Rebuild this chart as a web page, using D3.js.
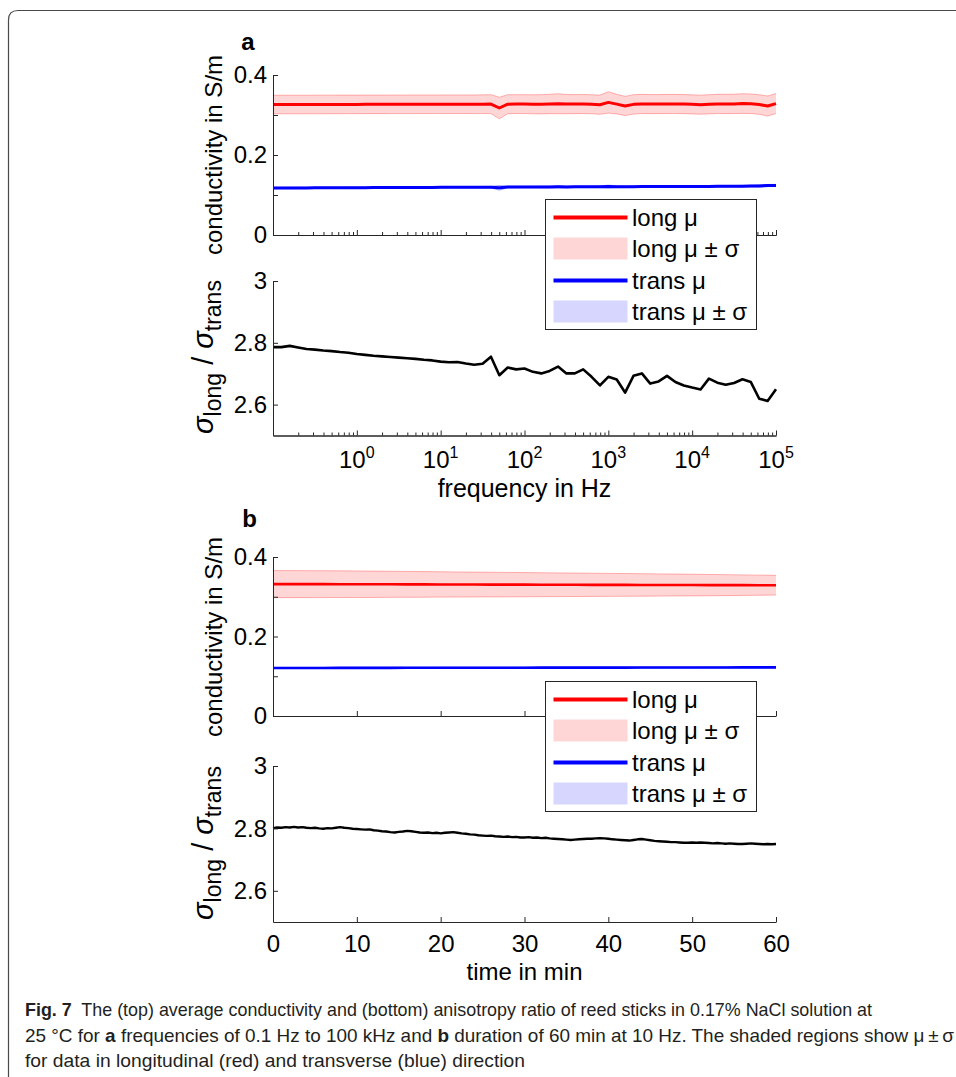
<!DOCTYPE html>
<html>
<head>
<meta charset="utf-8">
<script src="https://cdn.jsdelivr.net/npm/d3@7"></script>
<style>
  html, body { margin: 0; padding: 0; background: #fff; }
  svg { display: block; }
</style>
</head>
<body>
<svg id="fig" width="956" height="1077"></svg>
<script>
// ---------- (a) frequency sweep, 10 points per decade ----------
const freqHz = [
  0.1, 0.1259, 0.1585, 0.1995, 0.2512, 0.3162, 0.3981, 0.5012, 0.631, 0.7943,
  1, 1.259, 1.585, 1.995, 2.512, 3.162, 3.981, 5.012, 6.31, 7.943,
  10, 12.59, 15.85, 19.95, 25.12, 31.62, 39.81, 50.12, 63.1, 79.43,
  100, 125.9, 158.5, 199.5, 251.2, 316.2, 398.1, 501.2, 631, 794.3,
  1000, 1259, 1585, 1995, 2512, 3162, 3981, 5012, 6310, 7943,
  10000, 12590, 15850, 19950, 25120, 31620, 39810, 50120, 63100, 79430,
  100000
];
const longMeanA = [
  0.3262, 0.3262, 0.3263, 0.3263, 0.3263, 0.3264, 0.3264, 0.3264, 0.3265, 0.3265,
  0.3265, 0.3266, 0.3266, 0.3266, 0.3267, 0.3267, 0.3267, 0.3268, 0.3268, 0.3268,
  0.3268, 0.3269, 0.3269, 0.3269, 0.3268, 0.3270, 0.3272, 0.3175, 0.3270, 0.3272,
  0.3272, 0.3268, 0.3268, 0.3276, 0.3282, 0.3272, 0.3272, 0.3274, 0.3268, 0.3258,
  0.3315, 0.3272, 0.3225, 0.3266, 0.3276, 0.3272, 0.3272, 0.3276, 0.3276, 0.3272,
  0.3266, 0.3258, 0.3268, 0.3276, 0.3276, 0.3278, 0.3286, 0.3282, 0.3262, 0.3225,
  0.3285
];
const longSdA = [
  0.0232, 0.0232, 0.0232, 0.0232, 0.0232, 0.0232, 0.0232, 0.0232, 0.0232, 0.0232,
  0.0232, 0.0232, 0.0232, 0.0232, 0.0232, 0.0232, 0.0232, 0.0232, 0.0232, 0.0232,
  0.0232, 0.0232, 0.0232, 0.0232, 0.0233, 0.0234, 0.0236, 0.0270, 0.0238, 0.0236,
  0.0236, 0.0238, 0.0240, 0.0242, 0.0250, 0.0240, 0.0238, 0.0238, 0.0238, 0.0240,
  0.0268, 0.0245, 0.0240, 0.0242, 0.0240, 0.0238, 0.0238, 0.0240, 0.0240, 0.0238,
  0.0238, 0.0238, 0.0240, 0.0240, 0.0242, 0.0242, 0.0246, 0.0244, 0.0244, 0.0250,
  0.0250
];
const transMeanA = [
  0.1175, 0.1176, 0.1177, 0.1178, 0.1178, 0.1179, 0.1180, 0.1181, 0.1182, 0.1182,
  0.1183, 0.1184, 0.1185, 0.1186, 0.1186, 0.1187, 0.1188, 0.1189, 0.1190, 0.1190,
  0.1191, 0.1192, 0.1193, 0.1193, 0.1194, 0.1195, 0.1196, 0.1180, 0.1198, 0.1199,
  0.1200, 0.1201, 0.1201, 0.1202, 0.1204, 0.1203, 0.1204, 0.1205, 0.1205, 0.1206,
  0.1212, 0.1208, 0.1206, 0.1209, 0.1210, 0.1210, 0.1211, 0.1212, 0.1212, 0.1213,
  0.1214, 0.1214, 0.1215, 0.1216, 0.1217, 0.1218, 0.1220, 0.1222, 0.1228, 0.1236,
  0.1240
];
const transSdA = [
  0.0018, 0.0018, 0.0018, 0.0018, 0.0018, 0.0018, 0.0018, 0.0018, 0.0018, 0.0018,
  0.0018, 0.0018, 0.0018, 0.0018, 0.0018, 0.0018, 0.0018, 0.0018, 0.0018, 0.0018,
  0.0018, 0.0018, 0.0018, 0.0018, 0.0018, 0.0019, 0.0020, 0.0060, 0.0022, 0.0020,
  0.0020, 0.0020, 0.0022, 0.0024, 0.0030, 0.0022, 0.0020, 0.0020, 0.0020, 0.0022,
  0.0035, 0.0024, 0.0022, 0.0022, 0.0020, 0.0020, 0.0020, 0.0020, 0.0020, 0.0020,
  0.0020, 0.0020, 0.0020, 0.0020, 0.0020, 0.0020, 0.0022, 0.0024, 0.0030, 0.0028,
  0.0026
];
const ratioA = [
  2.786, 2.786, 2.790, 2.785, 2.780, 2.778, 2.775, 2.773, 2.770, 2.768,
  2.764, 2.761, 2.758, 2.756, 2.754, 2.752, 2.750, 2.748, 2.745, 2.743,
  2.739, 2.737, 2.738, 2.733, 2.729, 2.732, 2.755, 2.695, 2.720, 2.714,
  2.717, 2.706, 2.701, 2.709, 2.723, 2.701, 2.701, 2.714, 2.690, 2.662,
  2.690, 2.681, 2.639, 2.693, 2.701, 2.668, 2.675, 2.693, 2.673, 2.662,
  2.655, 2.649, 2.684, 2.671, 2.664, 2.670, 2.682, 2.673, 2.619, 2.612,
  2.650
];

// ---------- (b) 60 min recording at 10 Hz ----------
const timeMinB = [
  0, 0.5, 1, 1.5, 2, 2.5, 3, 3.5, 4, 4.5, 5, 5.5, 6, 6.5, 7, 7.5, 8, 8.5, 9, 9.5,
  10, 10.5, 11, 11.5, 12, 12.5, 13, 13.5, 14, 14.5, 15, 15.5, 16, 16.5, 17, 17.5, 18, 18.5, 19, 19.5,
  20, 20.5, 21, 21.5, 22, 22.5, 23, 23.5, 24, 24.5, 25, 25.5, 26, 26.5, 27, 27.5, 28, 28.5, 29, 29.5,
  30, 30.5, 31, 31.5, 32, 32.5, 33, 33.5, 34, 34.5, 35, 35.5, 36, 36.5, 37, 37.5, 38, 38.5, 39, 39.5,
  40, 40.5, 41, 41.5, 42, 42.5, 43, 43.5, 44, 44.5, 45, 45.5, 46, 46.5, 47, 47.5, 48, 48.5, 49, 49.5,
  50, 50.5, 51, 51.5, 52, 52.5, 53, 53.5, 54, 54.5, 55, 55.5, 56, 56.5, 57, 57.5, 58, 58.5, 59, 59.5,
  60
];
const ratioB = [
  2.801, 2.803, 2.802, 2.804, 2.803, 2.805, 2.803, 2.804, 2.802, 2.801,
  2.802, 2.800, 2.799, 2.801, 2.800, 2.802, 2.804, 2.802, 2.801, 2.799,
  2.798, 2.797, 2.796, 2.797, 2.794, 2.793, 2.791, 2.790, 2.788, 2.787,
  2.789, 2.790, 2.792, 2.791, 2.789, 2.787, 2.786, 2.787, 2.785, 2.786,
  2.784, 2.786, 2.787, 2.788, 2.786, 2.784, 2.783, 2.781, 2.780, 2.778,
  2.777, 2.776, 2.777, 2.775, 2.774, 2.773, 2.774, 2.772, 2.773, 2.771,
  2.771, 2.772, 2.770, 2.771, 2.769, 2.770, 2.768, 2.767, 2.766, 2.765,
  2.764, 2.763, 2.764, 2.765, 2.766, 2.767, 2.767, 2.768, 2.769, 2.768,
  2.767, 2.765, 2.764, 2.763, 2.762, 2.761, 2.763, 2.765, 2.766, 2.764,
  2.762, 2.760, 2.759, 2.758, 2.757, 2.756, 2.756, 2.755, 2.754, 2.754,
  2.755, 2.754, 2.755, 2.754, 2.753, 2.752, 2.753, 2.752, 2.751, 2.752,
  2.751, 2.750, 2.750, 2.751, 2.752, 2.751, 2.750, 2.749, 2.750, 2.749,
  2.750
];
const timeCoarseB = [0, 2, 4, 6, 8, 10, 12, 14, 16, 18, 20, 22, 24, 26, 28, 30,
  32, 34, 36, 38, 40, 42, 44, 46, 48, 50, 52, 54, 56, 58, 60];
const longMeanB = [
  0.3318, 0.3318, 0.3317, 0.3317, 0.3316, 0.3315, 0.3314, 0.3313, 0.3312, 0.3311,
  0.3310, 0.3308, 0.3307, 0.3306, 0.3305, 0.3304, 0.3303, 0.3302, 0.3301, 0.3300,
  0.3299, 0.3298, 0.3297, 0.3296, 0.3295, 0.3294, 0.3293, 0.3292, 0.3292, 0.3291,
  0.3290
];
const longSdB = [
  0.0340, 0.0340, 0.0339, 0.0338, 0.0336, 0.0334, 0.0331, 0.0328, 0.0325, 0.0322,
  0.0319, 0.0316, 0.0313, 0.0310, 0.0307, 0.0304, 0.0301, 0.0298, 0.0295, 0.0292,
  0.0289, 0.0286, 0.0283, 0.0279, 0.0276, 0.0272, 0.0268, 0.0264, 0.0258, 0.0253,
  0.0248
];
const transMeanB = [
  0.1208, 0.1208, 0.1209, 0.1209, 0.1210, 0.1210, 0.1211, 0.1211, 0.1212, 0.1212,
  0.1213, 0.1213, 0.1214, 0.1214, 0.1215, 0.1215, 0.1216, 0.1216, 0.1217, 0.1217,
  0.1218, 0.1218, 0.1219, 0.1219, 0.1220, 0.1220, 0.1221, 0.1222, 0.1223, 0.1223,
  0.1224
];
const transSdB = [
  0.0015, 0.0015, 0.0015, 0.0015, 0.0015, 0.0015, 0.0015, 0.0015, 0.0015, 0.0015,
  0.0015, 0.0015, 0.0015, 0.0015, 0.0015, 0.0015, 0.0015, 0.0015, 0.0015, 0.0015,
  0.0015, 0.0015, 0.0015, 0.0015, 0.0015, 0.0015, 0.0015, 0.0015, 0.0015, 0.0015,
  0.0015
];

// ---------- ticks and labels ----------
const condTicks = [0, 0.1, 0.2, 0.3, 0.4];
const condTickLabels = ["0", "", "0.2", "", "0.4"];
const ratioTicks = [2.6, 2.8, 3];
const ratioTickLabels = ["2.6", "2.8", "3"];
const freqMajorTicks = [0.1, 1, 10, 100, 1000, 10000, 100000];
const freqLabelExponents = ["0", "1", "2", "3", "4", "5"];
const freqLabelValues = [1, 10, 100, 1000, 10000, 100000];
const timeTicks = [0, 10, 20, 30, 40, 50, 60];
const timeTickLabels = ["0", "10", "20", "30", "40", "50", "60"];
const legendLabels = ["long \u03bc", "long \u03bc \u00b1 \u03c3", "trans \u03bc", "trans \u03bc \u00b1 \u03c3"];

// ---------- drawing ----------
const W = 956, H = 1077;
const FONT = "'Liberation Sans', Arial, Helvetica, sans-serif";
const AXIS_COLOR = "#262626";
const RED = "#ff0000", BLUE = "#0000ff";
const RED_FILL = "rgba(255,0,0,0.16)", BLUE_FILL = "rgba(0,0,255,0.16)";
const RED_EDGE = "rgba(255,0,0,0.28)", BLUE_EDGE = "rgba(0,0,255,0.28)";
const TICK_FS = 24, LABEL_FS = 25;

const svg = d3.select("#fig").attr("font-family", FONT);

// figure frame (rounded top-left corner, open on the right)
svg.append("path")
  .attr("d", `M8.5,${H} V20 Q8.5,10.5 18,10.5 H${W}`)
  .attr("fill", "none").attr("stroke", "#4a4a4a").attr("stroke-width", 1.2);

const X0 = 273, X1 = 776;

function styleAxis(g) {
  g.selectAll("path.domain").attr("stroke", AXIS_COLOR).attr("stroke-width", 1);
  g.selectAll(".tick line").attr("stroke", AXIS_COLOR).attr("stroke-width", 1);
  g.selectAll(".tick text").attr("fill", "#000").attr("font-size", TICK_FS).attr("font-family", FONT);
}

function yAxis(g, y, ticks, labels) {
  const ax = d3.axisLeft(y).tickValues(ticks)
    .tickFormat((d, i) => labels[i]).tickSizeInner(-5).tickSizeOuter(0).tickPadding(6);
  g.attr("transform", `translate(${X0},0)`).call(ax);
  styleAxis(g);
}

function bandAndLine(g, xs, x, y, mean, sd, lineColor, fill, edge, lw) {
  const idx = d3.range(xs.length);
  g.append("path").datum(idx)
    .attr("d", d3.area().x(i => x(xs[i])).y0(i => y(mean[i] - sd[i])).y1(i => y(mean[i] + sd[i])))
    .attr("fill", fill).attr("stroke", "none");
  [1, -1].forEach(s => {
    g.append("path").datum(idx)
      .attr("d", d3.line().x(i => x(xs[i])).y(i => y(mean[i] + s * sd[i])))
      .attr("fill", "none").attr("stroke", edge).attr("stroke-width", 1);
  });
  g.append("path").datum(idx)
    .attr("d", d3.line().x(i => x(xs[i])).y(i => y(mean[i])))
    .attr("fill", "none").attr("stroke", lineColor).attr("stroke-width", lw)
    .attr("stroke-linejoin", "round");
}

function legend(top) {
  const g = svg.append("g").attr("transform", `translate(545.5,${top + 0.5})`);
  g.append("rect").attr("width", 211).attr("height", 130)
    .attr("fill", "#fff").attr("stroke", AXIS_COLOR).attr("stroke-width", 1);
  const rows = [
    { y: 18, kind: "line", color: RED },
    { y: 49, kind: "patch", color: RED_FILL },
    { y: 81, kind: "line", color: BLUE },
    { y: 112, kind: "patch", color: BLUE_FILL }
  ];
  rows.forEach((r, i) => {
    if (r.kind === "line") {
      g.append("line").attr("x1", 8).attr("x2", 82).attr("y1", r.y).attr("y2", r.y)
        .attr("stroke", r.color).attr("stroke-width", 4);
    } else {
      g.append("rect").attr("x", 8).attr("y", r.y - 11).attr("width", 74).attr("height", 22)
        .attr("fill", r.color);
    }
    g.append("text").attr("x", 86.5).attr("y", r.y).attr("dy", "0.35em")
      .attr("font-size", 24).text(legendLabels[i]);
  });
}

function yLabelCond(cy) {
  svg.append("text")
    .attr("transform", `translate(222,${cy}) rotate(-90)`)
    .attr("text-anchor", "middle").attr("font-size", 24)
    .text("conductivity in S/m");
}

function yLabelRatio(cy) {
  const t = svg.append("text")
    .attr("transform", `translate(213,${cy}) rotate(-90)`)
    .attr("text-anchor", "middle").attr("font-size", 29);
  t.append("tspan").attr("font-style", "italic").text("\u03c3");
  t.append("tspan").attr("font-size", 23).attr("dy", 8).text("long");
  t.append("tspan").attr("dy", -8).text(" / ");
  t.append("tspan").attr("font-style", "italic").text("\u03c3");
  t.append("tspan").attr("font-size", 23).attr("dy", 8).text("trans");
}

// ===== panel a =====
const xLog = d3.scaleLog().domain([0.1, 100000]).range([X0, X1]);
const yCondA = d3.scaleLinear().domain([0, 0.4]).range([235, 75]);
const yRatioA = d3.scaleLinear().domain([2.5, 3]).range([435.5, 281]);

const freqMinorTicks = [];
freqMajorTicks.slice(0, -1).forEach(dec => {
  [2, 3, 4, 5, 6, 7, 8, 9].forEach(m => freqMinorTicks.push(+(dec * m).toPrecision(3)));
});

function logXAxis(yPos) {
  const gMinor = svg.append("g").attr("transform", `translate(0,${yPos})`)
    .call(d3.axisBottom(xLog).tickValues(freqMinorTicks).tickFormat("").tickSizeInner(-3).tickSizeOuter(0));
  styleAxis(gMinor);
  const gMajor = svg.append("g").attr("transform", `translate(0,${yPos})`)
    .call(d3.axisBottom(xLog).tickValues(freqMajorTicks).tickFormat("").tickSizeInner(-5).tickSizeOuter(0));
  styleAxis(gMajor);
}

const gA1 = svg.append("g");
bandAndLine(gA1, freqHz, xLog, yCondA, longMeanA, longSdA, RED, RED_FILL, RED_EDGE, 3);
bandAndLine(gA1, freqHz, xLog, yCondA, transMeanA, transSdA, BLUE, BLUE_FILL, BLUE_EDGE, 3);
yAxis(svg.append("g"), yCondA, condTicks, condTickLabels);
logXAxis(235);

svg.append("path").datum(d3.range(freqHz.length))
  .attr("d", d3.line().x(i => xLog(freqHz[i])).y(i => yRatioA(ratioA[i])))
  .attr("fill", "none").attr("stroke", "#000").attr("stroke-width", 2.6)
  .attr("stroke-linejoin", "round");
yAxis(svg.append("g"), yRatioA, ratioTicks, ratioTickLabels);
logXAxis(435.5);

// decade labels 10^k
freqLabelValues.forEach((v, i) => {
  const t = svg.append("text").attr("x", xLog(v)).attr("y", 468)
    .attr("text-anchor", "middle").attr("font-size", TICK_FS);
  t.append("tspan").text("10");
  t.append("tspan").attr("font-size", 16).attr("dy", -10).text(freqLabelExponents[i]);
});
svg.append("text").attr("x", (X0 + X1) / 2).attr("y", 497)
  .attr("text-anchor", "middle").attr("font-size", LABEL_FS).text("frequency in Hz");

yLabelCond(155);
yLabelRatio(357);
svg.append("text").attr("x", 248).attr("y", 50).attr("text-anchor", "middle")
  .attr("font-weight", "bold").attr("font-size", 24).text("a");
legend(199);

// ===== panel b =====
const xTime = d3.scaleLinear().domain([0, 60]).range([X0, X1]);
const yCondB = d3.scaleLinear().domain([0, 0.4]).range([716, 557]);
const yRatioB = d3.scaleLinear().domain([2.5, 3]).range([922, 766]);

const gB1 = svg.append("g");
bandAndLine(gB1, timeCoarseB, xTime, yCondB, longMeanB, longSdB, RED, RED_FILL, RED_EDGE, 2.6);
bandAndLine(gB1, timeCoarseB, xTime, yCondB, transMeanB, transSdB, BLUE, BLUE_FILL, BLUE_EDGE, 2.6);
yAxis(svg.append("g"), yCondB, condTicks, condTickLabels);
const gBx1 = svg.append("g").attr("transform", "translate(0,716)")
  .call(d3.axisBottom(xTime).tickValues(timeTicks).tickFormat("").tickSizeInner(-5).tickSizeOuter(0));
styleAxis(gBx1);

svg.append("path").datum(d3.range(timeMinB.length))
  .attr("d", d3.line().x(i => xTime(timeMinB[i])).y(i => yRatioB(ratioB[i])))
  .attr("fill", "none").attr("stroke", "#000").attr("stroke-width", 2.4)
  .attr("stroke-linejoin", "round");
yAxis(svg.append("g"), yRatioB, ratioTicks, ratioTickLabels);
const gBx2 = svg.append("g").attr("transform", "translate(0,922)")
  .call(d3.axisBottom(xTime).tickValues(timeTicks).tickFormat((d, i) => timeTickLabels[i])
    .tickSizeInner(-5).tickSizeOuter(0).tickPadding(0));
styleAxis(gBx2);
gBx2.selectAll(".tick text").attr("y", 0).attr("dy", 0).attr("transform", "translate(0,30)");

svg.append("text").attr("x", (X0 + X1) / 2).attr("y", 980)
  .attr("text-anchor", "middle").attr("font-size", 24).text("time in min");

yLabelCond(637);
yLabelRatio(843);
svg.append("text").attr("x", 249.5).attr("y", 526.5).attr("text-anchor", "middle")
  .attr("font-weight", "bold").attr("font-size", 24).text("b");
legend(681);

// ===== caption =====
const CAP_FONT = "'Liberation Sans Narrow', 'Arial Narrow', 'Liberation Sans', sans-serif";
const captionLines = [
  { y: 1016, w: 847, parts: [["Fig. 7", true], ["  The (top) average conductivity and (bottom) anisotropy ratio of reed sticks in 0.17% NaCl solution at", false]] },
  { y: 1042, w: 929, parts: [["25 \u00b0C for ", false], ["a", true], [" frequencies of 0.1 Hz to 100 kHz and ", false], ["b", true], [" duration of 60 min at 10 Hz. The shaded regions show \u03bc\u2009\u00b1\u2009\u03c3", false]] },
  { y: 1067, w: 500, parts: [["for data in longitudinal (red) and transverse (blue) direction", false]] }
];
captionLines.forEach(line => {
  const t = svg.append("text").attr("x", 25).attr("y", line.y)
    .attr("font-family", CAP_FONT).attr("font-size", 19).attr("fill", "#231f20")
    .attr("textLength", line.w).attr("lengthAdjust", "spacingAndGlyphs")
    .attr("xml:space", "preserve").style("white-space", "pre");
  line.parts.forEach(([txt, bold]) => {
    t.append("tspan").attr("font-weight", bold ? "bold" : null).text(txt);
  });
});
</script>
</body>
</html>
